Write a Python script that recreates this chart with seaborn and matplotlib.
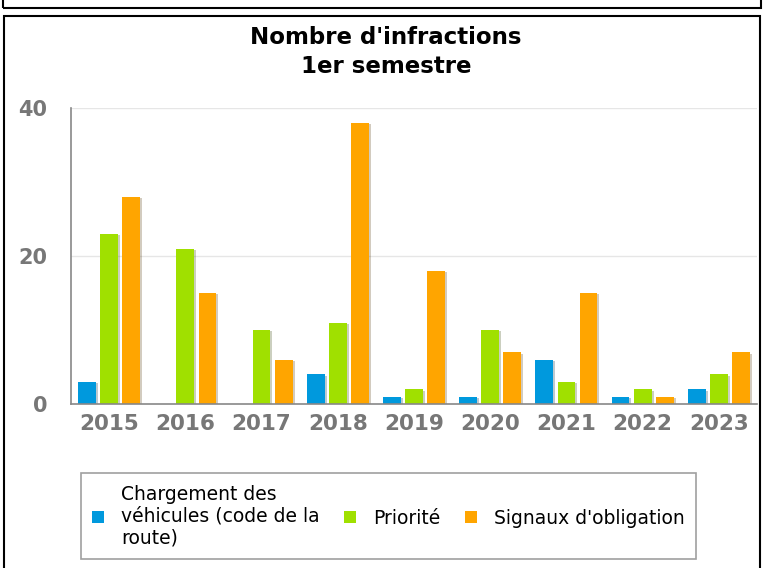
import pandas as pd
import numpy as np
import seaborn as sns
import matplotlib.pyplot as plt
import matplotlib.patheffects as pe
from matplotlib.patches import Rectangle, Patch

years = ["2015", "2016", "2017", "2018", "2019", "2020", "2021", "2022", "2023"]
series = ["Chargement des\nvéhicules (code de la\nroute)", "Priorité", "Signaux d'obligation"]
chargement = [3, 0, 0, 4, 1, 1, 6, 1, 2]
priorite = [23, 21, 10, 11, 2, 10, 3, 2, 4]
signaux = [28, 15, 6, 38, 18, 7, 15, 1, 7]
colors = ["#0099dd", "#a0e000", "#ffa500"]

df = pd.DataFrame({
    "annee": years * 3,
    "serie": [series[0]] * 9 + [series[1]] * 9 + [series[2]] * 9,
    "valeur": chargement + priorite + signaux,
})

sns.set_style("white")
plt.rcParams["font.family"] = ["DejaVu Sans"]
plt.rcParams["text.color"] = "black"

fig = plt.figure(figsize=(7.64, 5.68), dpi=100)
ax = fig.add_axes([71 / 764, 1 - 404 / 568, 686 / 764, 296 / 568])

sns.barplot(data=df, x="annee", y="valeur", hue="serie", order=years,
            hue_order=series, palette=colors, width=0.87, gap=0.2,
            saturation=1, legend=False, ax=ax)

for p in ax.patches:
    p.set_edgecolor("none")
    p.set_path_effects([pe.SimplePatchShadow(offset=(1.5, -1), alpha=0.25), pe.Normal()])

ax.set_xlim(-0.5, 8.5)
ax.set_ylim(0, 40)
ax.set_yticks([0, 20, 40])
ax.set_xlabel("")
ax.set_ylabel("")
ax.yaxis.grid(True, color="#e6e6e6", lw=1)
ax.set_axisbelow(True)
for s in ["top", "right"]:
    ax.spines[s].set_visible(False)
for s in ["left", "bottom"]:
    ax.spines[s].set_color("#888888")
    ax.spines[s].set_linewidth(1.2)

ax.set_xticks(np.arange(-0.5, 9.0, 1.0), minor=True)
ax.tick_params(axis="x", which="major", length=0, pad=7,
               labelsize=15.5, labelcolor="#777777")
ax.tick_params(axis="x", which="minor", length=7, width=1.2, color="#888888")
ax.tick_params(axis="y", length=7, width=1.2, color="#888888", pad=10,
               labelsize=15, labelcolor="#777777")
for t in ax.get_xticklabels() + ax.get_yticklabels():
    t.set_fontweight("bold")

fig.text(0.505, 1 - 52 / 568, "Nombre d'infractions\n1er semestre", ha="center",
         va="center", fontsize=16.5, fontweight="bold", linespacing=1.3, color="black")

handles = [Patch(facecolor=c, edgecolor="none") for c in colors]
leg = fig.legend(handles, series, ncol=3, loc="center",
                 bbox_to_anchor=((80 + 697) / 2 / 764, 1 - 516 / 568),
                 frameon=True, fancybox=False, fontsize=13.5,
                 handlelength=0.65, handleheight=0.65, handletextpad=0.9,
                 columnspacing=1.3, borderpad=0.6, labelcolor="black")
leg.get_frame().set_edgecolor("#888888")
leg.get_frame().set_linewidth(1.2)

# cadres autour de la figure
fig.patches.append(Rectangle((3 / 764, 1 - 8 / 568), 758 / 764, 0.05, transform=fig.transFigure,
                             fill=False, edgecolor="black", lw=1.5))
fig.patches.append(Rectangle((4 / 764, -0.01), 756 / 764, 1 - 16 / 568 + 0.01,
                             transform=fig.transFigure, fill=False,
                             edgecolor="black", lw=1.5))

fig.savefig("out.png", dpi=100)
